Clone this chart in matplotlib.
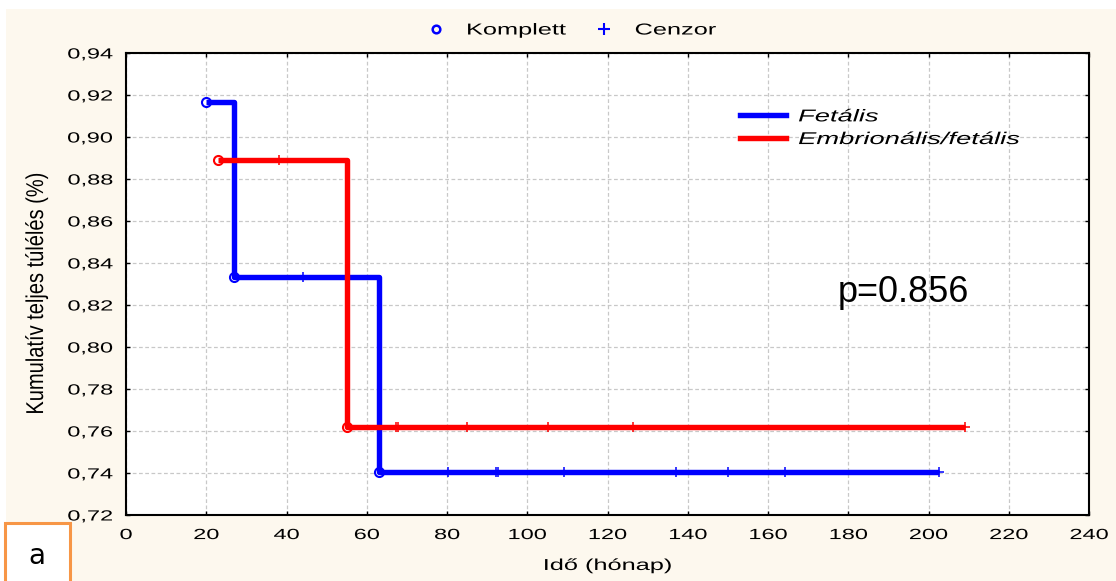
import numpy as np
import matplotlib
matplotlib.use('Agg')
import matplotlib.pyplot as plt
from matplotlib.lines import Line2D
from matplotlib.patches import Rectangle
from matplotlib.patheffects import AbstractPathEffect
from matplotlib.transforms import Affine2D

# Fetális group: event times (months), survival after each event, censored times
fet_event_t = [20, 27, 63]
fet_event_s = [0.9167, 0.8333, 0.7407]
fet_cens_t = [44.1, 80.2, 92.1, 92.6, 109.2, 137.0, 150.0, 164.2, 202.6]
fet_last_t = 202.6

# Embrionális/fetális group
emb_event_t = [23, 55]
emb_event_s = [0.8889, 0.7619]
emb_cens_t = [38.1, 67.3, 67.9, 84.9, 105.1, 126.3, 209.2]
emb_last_t = 209.2

x_ticks = list(range(0, 241, 20))
y_ticks = [0.72, 0.74, 0.76, 0.78, 0.80, 0.82, 0.84, 0.86, 0.88, 0.90, 0.92, 0.94]
y_ticklabels = [('%.2f' % v).replace('.', ',') for v in y_ticks]
p_value = 'p=0.856'

W, H = 1116, 581
FONT = 'Liberation Sans'
CREAM = '#fdf8ee'


class Stretch(AbstractPathEffect):
    # widens glyphs along the baseline (sx) / across it (sy), keeps alignment
    def __init__(self, sx=1.6, sy=1.0, anchor=0.0):
        super().__init__()
        self.sx, self.sy, self.anchor = sx, sy, anchor

    def draw_path(self, renderer, gc, tpath, affine, rgbFace=None):
        w = tpath.get_extents().x1
        shift = -(self.sx - 1) * w * self.anchor
        tr = Affine2D().scale(self.sx, self.sy).translate(shift, 0) + affine
        renderer.draw_path(gc, tpath, tr, rgbFace)


def surv_at(t, ev_t, ev_s):
    s = ev_s[0]
    for et, es in zip(ev_t, ev_s):
        if et <= t:
            s = es
    return s


fig = plt.figure(figsize=(W / 100, H / 100), dpi=100)
fig.patch.set_facecolor('white')
fig.add_artist(Rectangle((6 / W, 0), 1, 1 - 9 / H, transform=fig.transFigure,
                         fc=CREAM, ec='none', zorder=-5))

ax = fig.add_axes([126 / W, 1 - 515 / H, 963 / W, 462 / H])
ax.set_facecolor('white')

groups = [
    (fet_event_t, fet_event_s, fet_cens_t, fet_last_t, '#0000ff', 'Fetális'),
    (emb_event_t, emb_event_s, emb_cens_t, emb_last_t, '#ff0000', 'Embrionális/fetális'),
]
for ev_t, ev_s, cens_t, last_t, col, name in groups:
    xs = ev_t + [last_t]
    ys = ev_s + [ev_s[-1]]
    ax.step(xs, ys, where='post', color=col, lw=3.9, zorder=4,
            solid_joinstyle='round', solid_capstyle='butt')
    ax.plot(ev_t, ev_s, 'o', ms=6.5, mfc='white', mec=col, mew=1.5, zorder=3)
    cy = [surv_at(t, ev_t, ev_s) for t in cens_t]
    ax.plot(cens_t, cy, '+', ms=7, color=col, mew=1.1, zorder=5)

ax.set_xlim(0, 240)
ax.set_ylim(0.72, 0.94)
ax.set_xticks(x_ticks, labels=[str(v) for v in x_ticks])
ax.set_yticks(y_ticks, labels=y_ticklabels)
ax.tick_params(direction='in', length=3, width=1, top=True, right=True,
               labelsize=10.6, pad=9.4, colors='black')
for lbl in ax.get_xticklabels():
    lbl.set_family(FONT)
    lbl.set_path_effects([Stretch(1.6, anchor=0.5)])
for lbl in ax.get_yticklabels():
    lbl.set_family(FONT)
    lbl.set_path_effects([Stretch(1.6, anchor=1.0)])
for sp in ax.spines.values():
    sp.set_linewidth(1.5)
    sp.set_color('black')
ax.grid(True, color='#c8c8c8', ls=(0, (3, 2)), lw=0.9, zorder=0)
ax.set_axisbelow(True)

ax.set_xlabel('Idő (hónap)', fontsize=11.4, family=FONT)
ax.xaxis.label.set_path_effects([Stretch(1.6, anchor=0.5)])
ax.xaxis.set_label_coords(0.5, -0.093)
ax.set_ylabel('Kumulatív teljes túlélés (%)', fontsize=13.5, family=FONT)
ax.yaxis.label.set_path_effects([Stretch(1.07, 1.3, anchor=0.5)])
ax.yaxis.set_label_coords(-0.082, 0.478)

# group legend inside the plot
leg_handles = [Line2D([], [], color=g[4], lw=3.9) for g in groups]
leg = ax.legend(leg_handles, [g[5] for g in groups], loc='upper left',
                bbox_to_anchor=(0.6376, 0.878), frameon=False,
                prop={'family': FONT, 'style': 'italic', 'size': 12.3},
                handlelength=2.7, handletextpad=0.7, labelspacing=0.45,
                borderpad=0, borderaxespad=0)
for t in leg.get_texts():
    t.set_path_effects([Stretch(1.6)])

# marker legend above the plot
mk_handles = [
    Line2D([], [], ls='', marker='o', ms=5.5, mfc='none', mec='#0000ff', mew=1.8),
    Line2D([], [], ls='', marker='+', ms=8, color='#0000ff', mew=1.5),
]
top = fig.legend(mk_handles, ['Komplett', 'Cenzor'], loc='center left',
                 bbox_to_anchor=(428 / W, 1 - 30 / H), ncol=2, frameon=False,
                 prop={'family': FONT, 'size': 11.4}, handlelength=1.0,
                 handletextpad=1.4, columnspacing=4.3, borderpad=0,
                 borderaxespad=0)
for t in top.get_texts():
    t.set_path_effects([Stretch(1.6)])

ax.text(0.807, 0.482, p_value, transform=ax.transAxes, ha='center',
        va='center', fontsize=26, family=FONT, zorder=6)

# panel letter
fig.add_artist(Rectangle((5 / W, -0.05), 65 / W, 0.05 + (581 - 523) / H,
                         transform=fig.transFigure, fc='white', ec='#f79646',
                         lw=2.2, zorder=5))
fig.text(37 / W, 1 - 556 / H, 'a', ha='center', va='center', fontsize=20,
         family='DejaVu Sans', zorder=6)

fig.savefig('out.png', dpi=100)
